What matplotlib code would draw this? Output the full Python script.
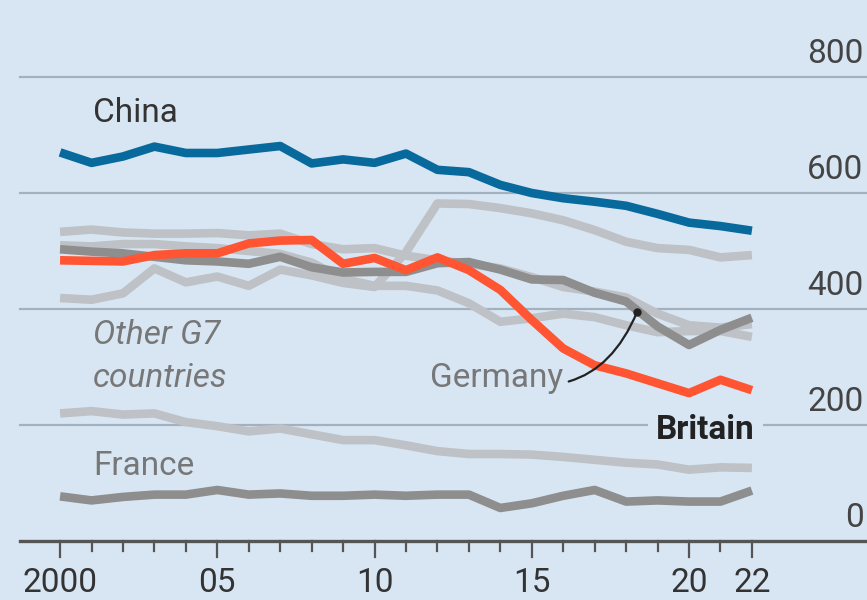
import numpy as np
import matplotlib
matplotlib.use("Agg")
import matplotlib.pyplot as plt

plt.rcParams['font.family'] = ['Roboto', 'DejaVu Sans']

years = np.arange(2000, 2023)

china = [670, 652, 663, 680, 669, 669, 675, 681, 651, 658, 652, 668,
         640, 636, 614, 600, 591, 585, 578, 564, 549, 543, 535]
britain = [484, 483, 482, 493, 496, 496, 513, 518, 519, 478, 488, 467,
           489, 467, 433, 381, 332, 303, 289, 272, 255, 278, 260]
germany = [503, 499, 496, 490, 484, 482, 478, 490, 472, 463, 464, 464,
           479, 481, 468, 451, 450, 428, 413, 370, 338, 364, 385]
france = [77, 70, 76, 80, 80, 88, 80, 82, 78, 78, 80, 78,
          80, 80, 57, 65, 78, 88, 68, 70, 68, 68, 87]
japan = [419, 416, 427, 470, 446, 456, 440, 468, 458, 445, 438, 498,
         582, 581, 574, 565, 553, 536, 516, 505, 502, 489, 493]
usa = [533, 537, 532, 530, 530, 531, 527, 530, 512, 503, 505, 492,
       484, 478, 470, 455, 438, 430, 420, 392, 372, 368, 374]
italy = [510, 508, 512, 512, 508, 505, 500, 495, 480, 452, 440, 440,
         432, 410, 378, 384, 392, 386, 372, 360, 362, 362, 352]
canada = [220, 224, 218, 220, 205, 198, 189, 194, 184, 174, 174, 165,
          155, 150, 150, 149, 145, 140, 135, 132, 123, 127, 126]

ytick_vals = [0, 200, 400, 600, 800]
xtick_labels = {2000: "2000", 2005: "05", 2010: "10", 2015: "15", 2020: "20", 2022: "22"}

bg = "#d8e6f3"
fs = 24
fig = plt.figure(figsize=(8.67, 6.0), dpi=100, facecolor=bg)
ax = fig.add_axes([0, 0, 1, 1])
ax.set_facecolor(bg)
ax.set_xlim(1998.09, 2025.66)
ax.set_ylim(-101.7, 932.8)
ax.axis("off")

# grid lines and right hand labels
for v in ytick_vals[1:]:
    ax.plot([1998.73, 2025.66], [v, v], color="#a3b1bf", lw=1.6, zorder=1)
for v in ytick_vals:
    ax.text(2025.55, v + 12, str(v), ha="right", va="bottom", fontsize=fs, color="#444444")

# x axis
ax.plot([1998.73, 2025.66], [0, 0], color="#555555", lw=2.4, zorder=5)
for y in years:
    ln = 27 if y in xtick_labels else 17
    ax.plot([y, y], [0, -ln], color="#555555", lw=1.6, zorder=5)
for y, lab in xtick_labels.items():
    ax.text(y, -72, lab, ha="center", va="center", fontsize=fs, color="#333333")

lw = 6.2
light = "#bec2c7"
dark = "#8e8e8e"
for s in [canada, italy, usa, japan]:
    ax.plot(years, s, color=light, lw=lw, solid_capstyle="butt", zorder=2)
ax.plot(years, france, color=dark, lw=lw, solid_capstyle="butt", zorder=3)
ax.plot(years, germany, color=dark, lw=lw, solid_capstyle="butt", zorder=3)
ax.plot(years, britain, color="#ff5533", lw=lw, solid_capstyle="butt", zorder=4)
ax.plot(years, china, color="#086a9c", lw=lw, solid_capstyle="butt", zorder=4)

# labels
ax.text(2001.05, 738, "China", fontsize=fs, color="#333333", va="center")
ax.text(2001.05, 355, "Other G7", fontsize=fs, color="#777777", va="center", style="italic")
ax.text(2001.05, 281, "countries", fontsize=fs, color="#777777", va="center", style="italic")
ax.text(2001.05, 129, "France", fontsize=fs, color="#777777", va="center")
ax.text(2022.1, 191, "Britain", fontsize=fs, color="#222222", va="center", ha="right",
        fontweight="bold", bbox=dict(facecolor=bg, edgecolor="none", pad=6), zorder=6)
ax.annotate("Germany", xy=(2018.35, 395), xytext=(2016.0, 281),
            fontsize=fs, color="#777777", va="center", ha="right",
            arrowprops=dict(arrowstyle="-", color="#222222", lw=1.6,
                            connectionstyle="arc3,rad=0.45", shrinkA=2, shrinkB=0),
            zorder=6)
ax.plot([2018.35], [395], "o", color="#222222", ms=5, zorder=7)

fig.savefig("out.png", dpi=100, facecolor=bg)
